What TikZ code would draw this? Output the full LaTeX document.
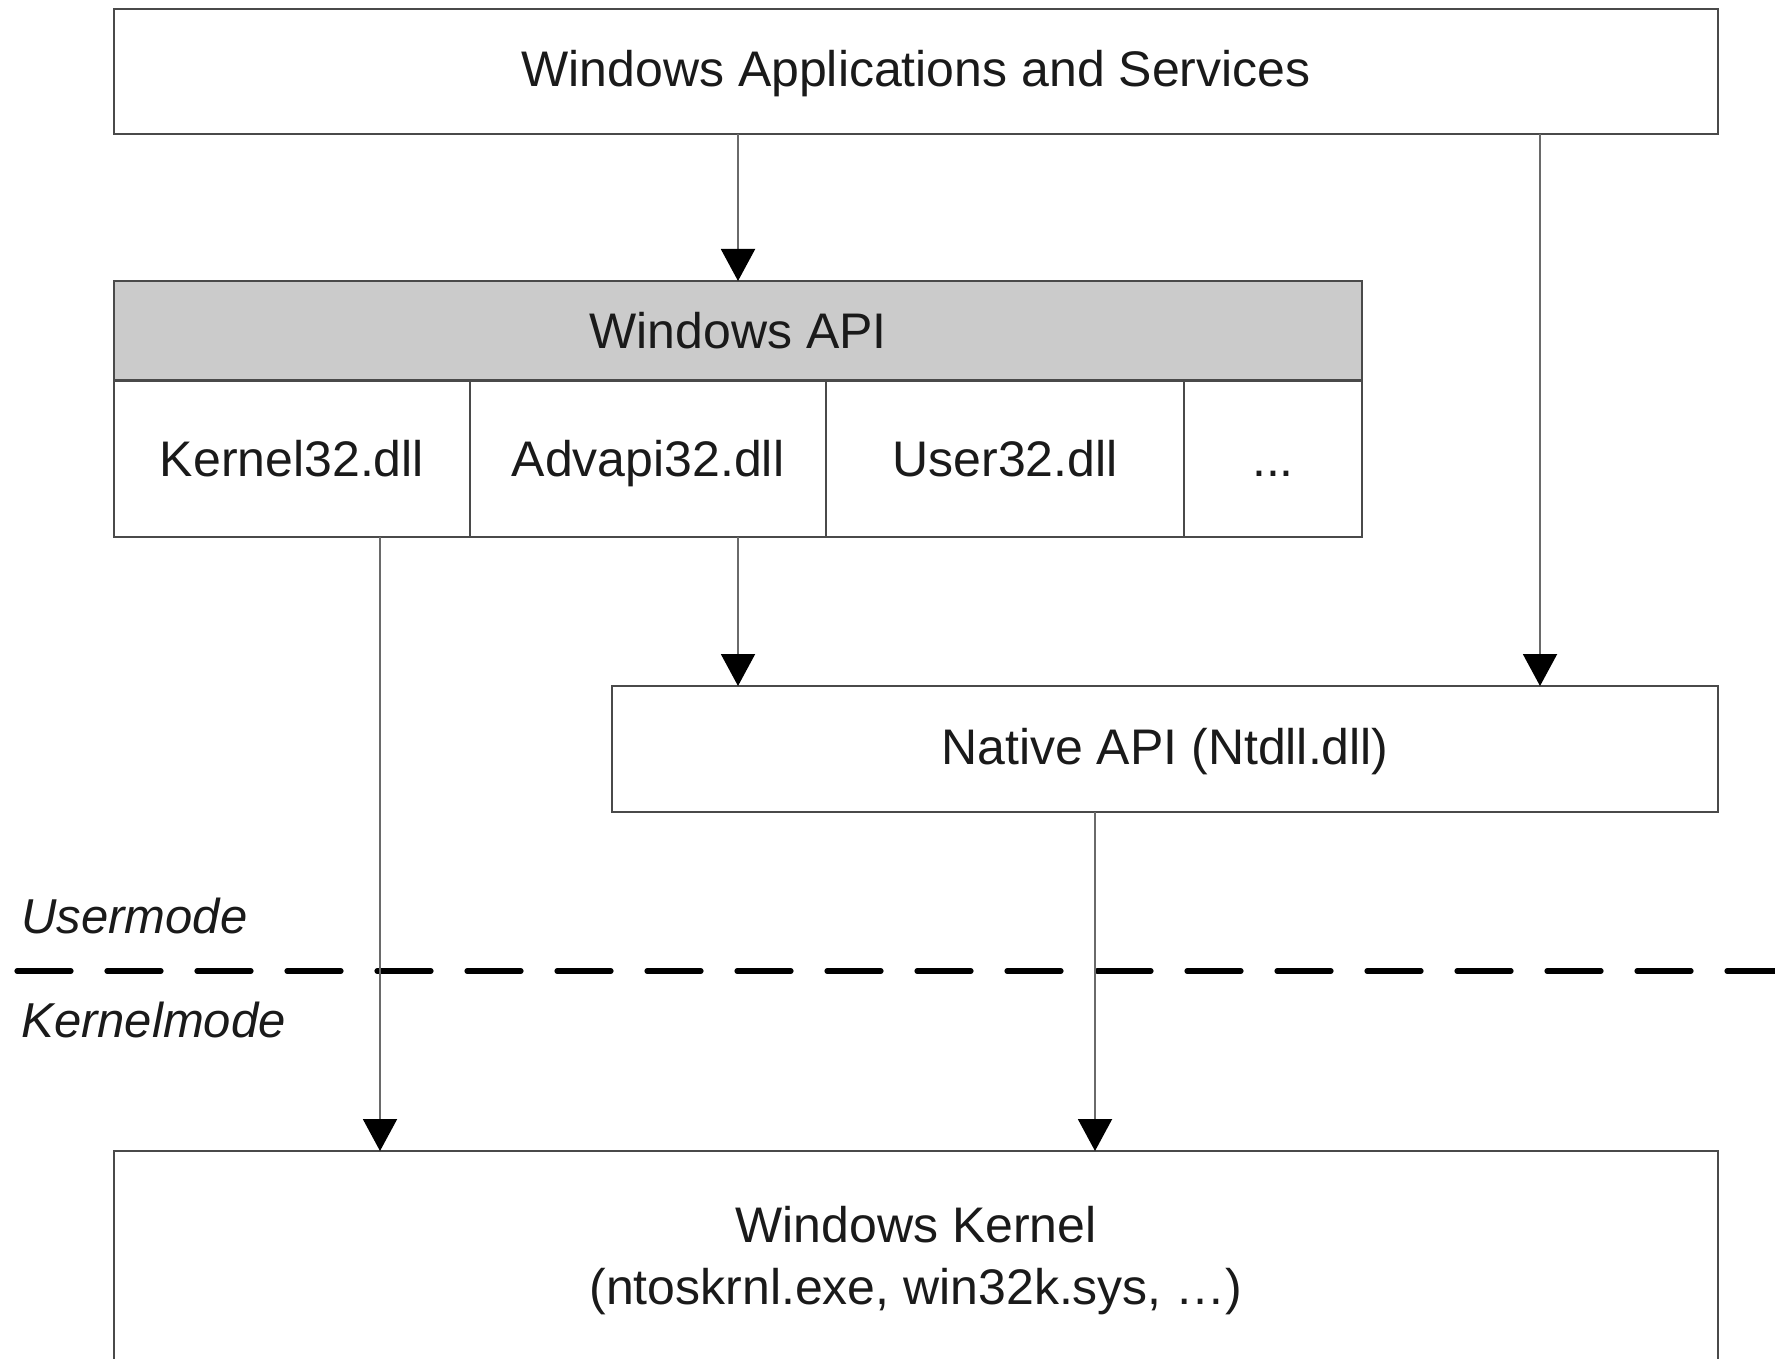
\documentclass[tikz,border=0pt]{standalone}
\usepackage{fontspec}
\setmainfont{Liberation Sans}
\usetikzlibrary{arrows.meta}
\definecolor{boxline}{HTML}{4A4A4A}
\definecolor{arrline}{HTML}{6A6A6A}
\definecolor{hdrfill}{HTML}{CBCBCB}
\definecolor{txtcol}{HTML}{1A1A1A}
\tikzset{
  box/.style={draw=boxline, line width=1pt, inner sep=0pt, outer sep=0pt, text=txtcol,
    text height=18pt, text depth=0pt, font=\fontsize{25}{31}\selectfont},
  txt/.style={inner sep=0pt, text=txtcol, font=\fontsize{25}{31}\selectfont},
  modelabel/.style={inner sep=0pt, anchor=base west, text=txtcol, font=\fontsize{24.5}{30}\selectfont\itshape},
  arr/.style={draw=arrline, line width=1pt, -{Triangle[length=16pt,width=17pt,fill=black,color=black]}},
  sep/.style={draw=black, line width=2.6pt, line cap=round, dash pattern=on 27pt off 18pt}
}
\begin{document}
\begin{tikzpicture}[x=0.5pt,y=-0.5pt]
\useasboundingbox[fill=white] (0,0) rectangle (1775,1358);
\clip (0,0) rectangle (1775,1358);
% boxes
\node[box, text depth=3pt, minimum width=802pt, minimum height=62.5pt] (top) at (916,71.5) {Windows Applications and Services};
\node[box, fill=hdrfill, minimum width=624pt, minimum height=50pt] (api) at (738,331) {Windows API};
\node[box, minimum width=178pt, minimum height=78.5pt] (k32) at (292,458.5) {Kernel32.dll};
\node[box, minimum width=178pt, minimum height=78.5pt] (adv) at (648,458.5) {Advapi32.dll};
\node[box, minimum width=179pt, minimum height=78.5pt] (usr) at (1005,458.5) {User32.dll};
\node[box, minimum width=89pt, minimum height=78.5pt] (dots) at (1273,458.5) {...};
\node[box, text depth=3pt, minimum width=553pt, minimum height=63pt] (nat) at (1165,749) {Native API (Ntdll.dll)};
\node[box, minimum width=802pt, minimum height=160pt, anchor=north] (kern) at (916,1151) {};
\node[txt, align=center] (kerntxt) at (916,1261) {Windows Kernel\\(ntoskrnl.exe, win32k.sys, …)};
% mode separator
\coordinate (sepL) at (17,971);
\coordinate (sepR) at (1790,971);
\draw[sep] (sepL) -- (sepR);
\node[modelabel] (um) at (21,933) {Usermode};
\node[modelabel] (km) at (21,1037) {Kernelmode};
% connectors
\coordinate (rx) at (1540,0);
\coordinate (lx) at (380,0);
\coordinate (mx) at (1095,0);
\draw[arr] (top.south -| api.north) -- (api.north);
\draw[arr] (top.south -| rx) -- (nat.north -| rx);
\draw[arr] (api.north |- adv.south) -- (api.north |- nat.north);
\draw[arr] (k32.south -| lx) -- (kern.north -| lx);
\draw[arr] (nat.south -| mx) -- (kern.north -| mx);
\end{tikzpicture}
\end{document}
